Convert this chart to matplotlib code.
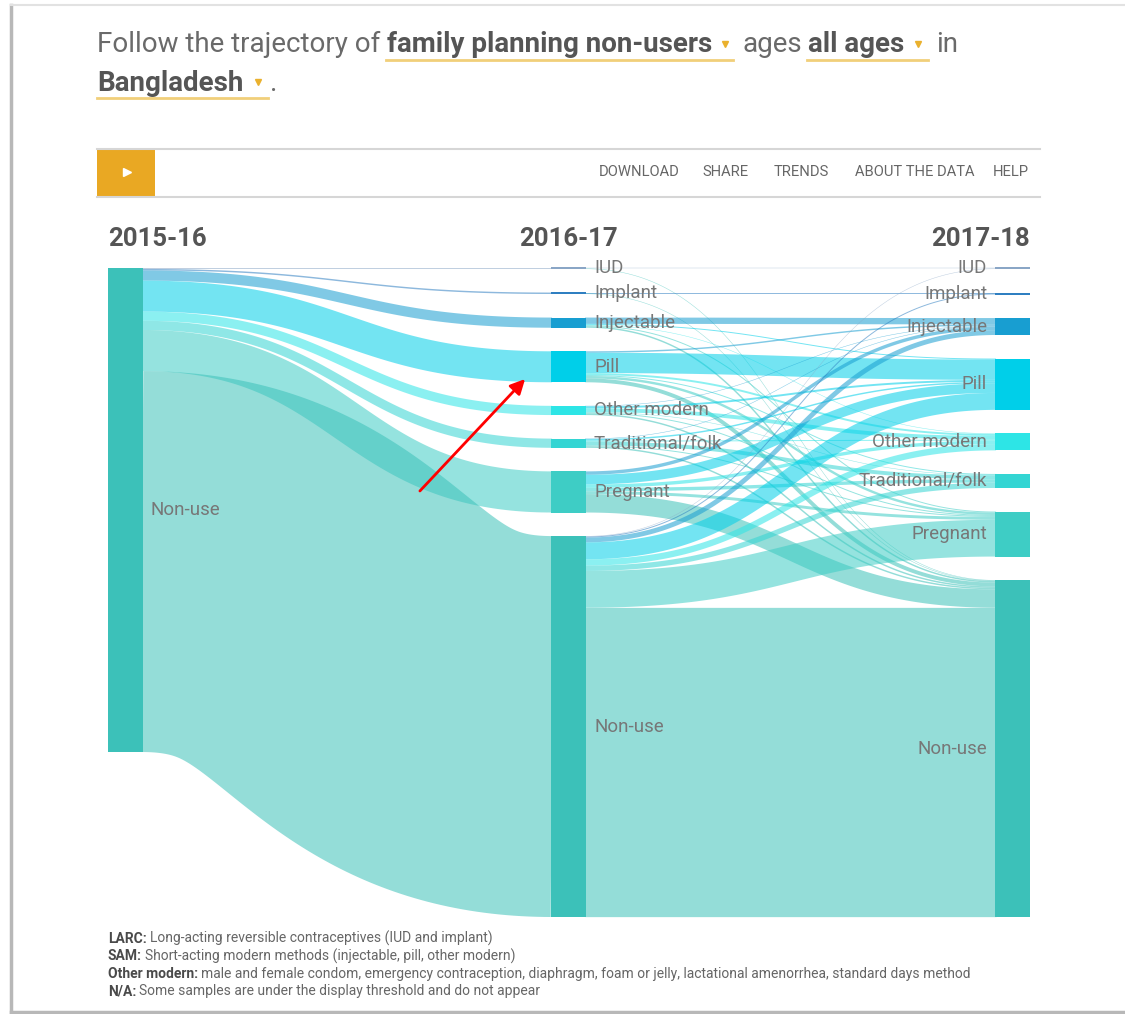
import numpy as np
import matplotlib
matplotlib.use("Agg")
import matplotlib.pyplot as plt
from matplotlib import font_manager

# ---- data (share of 2015-16 non-users, %) ----
stages = ["2015-16", "2016-17", "2017-18"]
methods = ["IUD", "Implant", "Injectable", "Pill", "Other modern",
           "Traditional/folk", "Pregnant", "Non-use"]
method_colors = ["#8aa6c6", "#2f7fc1", "#189ed1", "#00cfe9", "#2de5e6",
                 "#33d5d3", "#3ecdc5", "#3cc1b9"]

# 2015-16: everybody is a non-user
status_15_16 = [0, 0, 0, 0, 0, 0, 0, 100.0]
# where the 2015-16 non-users are in 2016-17
status_16_17 = [0.2, 0.3, 2.1, 6.4, 1.9, 1.9, 8.5, 78.7]
# rows: status in 2016-17, columns: status in 2017-18
moves_17_18 = [
    [0.1, 0.0, 0.0, 0.0, 0.0, 0.0, 0.0, 0.1],
    [0.0, 0.2, 0.0, 0.0, 0.0, 0.0, 0.0, 0.1],
    [0.0, 0.0, 1.3, 0.2, 0.1, 0.0, 0.2, 0.3],
    [0.0, 0.0, 0.3, 4.2, 0.4, 0.2, 0.5, 0.8],
    [0.0, 0.0, 0.1, 0.4, 0.8, 0.1, 0.2, 0.3],
    [0.0, 0.0, 0.1, 0.3, 0.2, 0.8, 0.2, 0.3],
    [0.0, 0.0, 0.7, 2.0, 0.7, 0.7, 0.6, 3.8],
    [0.1, 0.2, 1.0, 3.5, 1.3, 1.1, 7.6, 63.9],
]

footnotes = [
    ("LARC:", "Long-acting reversible contraceptives (IUD and implant)"),
    ("SAM:", "Short-acting modern methods (injectable, pill, other modern)"),
    ("Other modern:", "male and female condom, emergency contraception, diaphragm, foam or jelly, lactational amenorrhea, standard days method"),
    ("N/A:", "Some samples are under the display threshold and do not appear"),
]
menu_items = ["DOWNLOAD", "SHARE", "TRENDS", "ABOUT THE DATA", "HELP"]

# ---- fonts ----
names = {f.name for f in font_manager.fontManager.ttflist}
NARROW = "Liberation Sans Narrow" if "Liberation Sans Narrow" in names else "Roboto"
narrow_scale = 1.0 if NARROW != "Roboto" else 0.85
plt.rcParams["font.family"] = ["Roboto", "DejaVu Sans"]

W, H = 1125, 1014
fig = plt.figure(figsize=(W / 100, H / 100), dpi=100)
ax = fig.add_axes([0, 0, 1, 1])
ax.set_xlim(0, W)
ax.set_ylim(H, 0)
ax.axis("off")

# ---- frame ----
ax.plot([11, 11], [5, 1012], color="#b8b8b8", lw=2.5)
ax.plot([11, W], [1012, 1012], color="#b8b8b8", lw=2.5)
ax.plot([11, W], [5, 5], color="#e2e2e2", lw=1.5)

# ---- header sentence ----
hcol, bcol, orange = "#6a6a6a", "#555555", "#eab12e"
hs = 23.5 * narrow_scale
ax.text(97, 52, "Follow the trajectory of", fontsize=hs, family=NARROW, color=hcol, va="baseline")
ax.text(387, 52, "family planning non-users", fontsize=hs, family=NARROW, weight="bold", color=bcol, va="baseline")
ax.text(742, 52, "ages", fontsize=hs, family=NARROW, color=hcol, va="baseline")
ax.text(808, 52, "all ages", fontsize=hs, family=NARROW, weight="bold", color=bcol, va="baseline")
ax.text(936, 52, "in", fontsize=hs, family=NARROW, color=hcol, va="baseline")
ax.text(97, 91, "Bangladesh", fontsize=hs, family=NARROW, weight="bold", color=bcol, va="baseline")
ax.text(270, 91, ".", fontsize=hs, family=NARROW, color=hcol, va="baseline")
for x0, x1, y in [(386, 733, 60), (807, 928, 60), (97, 268, 98)]:
    ax.plot([x0, x1], [y, y], color="#f1cf7a", lw=2)
ax.plot([725, 918, 258], [44, 44, 82], ls="none", marker="v", ms=5, color=orange)

# ---- toolbar ----
ax.plot([97, 1040], [149, 149], color="#d6d6d6", lw=1.5)
ax.plot([97, 1040], [197, 197], color="#d6d6d6", lw=1.5)
ax.add_patch(plt.Rectangle((97, 149), 58, 48, color="#e9a823", lw=0))
ax.plot([127], [172], marker=">", ms=6, color="white")
menu_x = [599, 702, 774, 855, 993]
for mx, item in zip(menu_x, menu_items):
    ax.text(mx, 172, item, fontsize=12.5 * narrow_scale, family=NARROW, color="#666666", va="center")

# ---- sankey ----
TOP, BOTTOM = 268, 917
PX = 4.84          # pixels per percentage point
NODE_W = 35
col_x = [108, 551, 995]
moves = np.array(moves_17_18)
status_17_18 = moves.sum(axis=0)
columns = [np.array(status_15_16), np.array(status_16_17), status_17_18]


def layout(vals, justify):
    idx = [i for i, v in enumerate(vals) if v > 0]
    h = vals * PX
    gap = (BOTTOM - TOP - h[idx].sum()) / (len(idx) - 1) if justify and len(idx) > 1 else 0
    pos = {}
    y = TOP
    for i in idx:
        pos[i] = [y, y + h[i]]
        y += h[i] + gap
    return pos


nodes = [layout(columns[0], False), layout(columns[1], True), layout(columns[2], True)]


def link(x0, x1, y0, y1, h, color):
    # d3-style link: stroke of width h along a horizontal bezier
    t = np.linspace(0, 1, 120)
    xm = (x0 + x1) / 2
    x = x0 * (1 - t) ** 3 + 3 * xm * (1 - t) ** 2 * t + 3 * xm * (1 - t) * t ** 2 + x1 * t ** 3
    s = 3 * (1 - t) * t ** 2 + t ** 3
    ax.plot(x, y0 + (y1 - y0) * s, color=color, alpha=0.55, lw=h * 0.72,
            solid_capstyle="butt", solid_joinstyle="round")


# 2015-16 -> 2016-17
src = 7
out_y = nodes[0][src][0]
for j in range(len(methods)):
    v = columns[1][j]
    if v <= 0:
        continue
    h = v * PX
    ty = nodes[1][j][0]
    link(col_x[0] + NODE_W - 1, col_x[1] + 1, out_y + h / 2, ty + h / 2, h, method_colors[j])
    out_y += h

# 2016-17 -> 2017-18
in_y = {j: nodes[2][j][0] for j in nodes[2]}
for i in range(len(methods)):
    oy = nodes[1][i][0]
    for j in range(len(methods)):
        v = moves[i, j]
        if v <= 0:
            continue
        h = v * PX
        link(col_x[1] + NODE_W - 1, col_x[2] + 1, oy + h / 2, in_y[j] + h / 2, h, method_colors[j])
        oy += h
        in_y[j] += h

# node bars and labels
for c, pos in enumerate(nodes):
    for i, (y0, y1) in pos.items():
        hgt = max(y1 - y0, 2)
        ax.bar(col_x[c], hgt, bottom=(y0 + y1) / 2 - hgt / 2, width=NODE_W, align="edge",
               color=method_colors[i], lw=0, zorder=3)
        yc = (y0 + y1) / 2
        if c == 2:
            ax.text(col_x[c] - 8, yc, methods[i], ha="right", va="center", fontsize=13.5, color="#777777", zorder=4)
        else:
            ax.text(col_x[c] + NODE_W + 8, yc, methods[i], ha="left", va="center", fontsize=13.5, color="#777777", zorder=4)

# stage headers
ax.text(108, 246, stages[0], fontsize=18.5, weight="bold", color="#555555", ha="left", va="baseline")
ax.text(col_x[1] + NODE_W / 2, 246, stages[1], fontsize=18.5, weight="bold", color="#555555", ha="center", va="baseline")
ax.text(col_x[2] + NODE_W, 246, stages[2], fontsize=18.5, weight="bold", color="#555555", ha="right", va="baseline")

# red arrow
ax.annotate("", xy=(527, 377), xytext=(418, 493),
            arrowprops=dict(arrowstyle="-|>", color="red", lw=2, mutation_scale=22), zorder=5)

# ---- footnotes ----
fig.canvas.draw()
rend = fig.canvas.get_renderer()
fy = 943
for bold, rest in footnotes:
    t = ax.text(108, fy, bold, fontsize=11.8 * narrow_scale, family=NARROW, weight="bold", color="#4a4a4a", va="baseline")
    bb = t.get_window_extent(renderer=rend)
    ax.text(bb.x1 + 3, fy, rest, fontsize=11.8 * narrow_scale, family=NARROW, color="#666666", va="baseline")
    fy += 17.5

fig.savefig("out.png", dpi=100)
